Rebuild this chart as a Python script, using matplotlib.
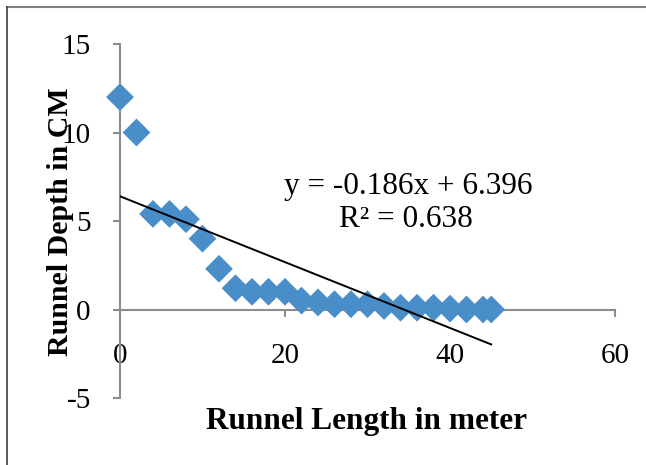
import numpy as np
import matplotlib.pyplot as plt
from matplotlib.lines import Line2D

plt.rcParams['font.family'] = ['Liberation Serif', 'DejaVu Serif']

# runnel depth measured every 2 m along the runnel
length_m = [0, 2, 4, 6, 8, 10, 12, 14, 16, 18, 20, 22, 24, 26, 28, 30,
            32, 34, 36, 38, 40, 42, 44, 45]
depth_cm = [12.0, 10.0, 5.4, 5.4, 5.1, 4.0, 2.3, 1.2, 1.0, 1.0, 1.0, 0.5,
            0.4, 0.3, 0.3, 0.3, 0.2, 0.1, 0.1, 0.1, 0.05, 0.0, 0.0, 0.0]
slope, intercept, r2 = -0.186, 6.396, 0.638

x_ticks = [0, 20, 40, 60]
y_ticks = [-5, 0, 5, 10, 15]

fig = plt.figure(figsize=(6.46, 4.65), dpi=100)
ax = fig.add_axes([120 / 646, 1 - 398 / 465, 495 / 646, 354 / 465])

axis_grey = '#8c8c8c'
ax.scatter(length_m, depth_cm, marker='D', s=200, color='#4a8ec9',
           edgecolors='none', zorder=3, clip_on=False)

xs = np.array([min(length_m), max(length_m)])
ax.plot(xs, slope * xs + intercept, color='black', lw=1.4, zorder=4)

ax.set_xlim(0, 60)
ax.set_ylim(-5, 15)
ax.spines['top'].set_visible(False)
ax.spines['right'].set_visible(False)
ax.spines['bottom'].set_position(('data', 0))
for s in ('left', 'bottom'):
    ax.spines[s].set_color(axis_grey)
    ax.spines[s].set_linewidth(1.5)

ax.set_xticks(x_ticks)
ax.set_yticks(y_ticks)
ax.set_yticklabels([str(v) for v in y_ticks])
ax.tick_params(axis='x', direction='out', length=5, width=1.5, color=axis_grey,
               labelsize=21, pad=19)
ax.tick_params(axis='y', direction='out', length=5, width=1.5, color=axis_grey,
               labelsize=21, pad=16)

fig.text(367 / 646, 1 - 422 / 465, 'Runnel Length in meter',
         ha='center', va='center', fontsize=22.5, fontweight='bold')
fig.text(61 / 646, 1 - 222 / 465, 'Runnel Depth in CM', rotation=90,
         ha='center', va='center', fontsize=21.5, fontweight='bold')

fig.text(408 / 646, 1 - 186 / 465, f'y = {slope}x + {intercept}',
         ha='center', va='center', fontsize=22.5)
fig.text(406 / 646, 1 - 219 / 465, f'R² = {r2}',
         ha='center', va='center', fontsize=22.5)

# thin frame lines on top and left edge
fig.add_artist(Line2D([7 / 646, 1], [1 - 7 / 465] * 2, color='#808080', lw=1.5))
fig.add_artist(Line2D([7 / 646] * 2, [0, 1 - 7 / 465], color='#404040', lw=1.2))

fig.savefig('out.png', dpi=100)
